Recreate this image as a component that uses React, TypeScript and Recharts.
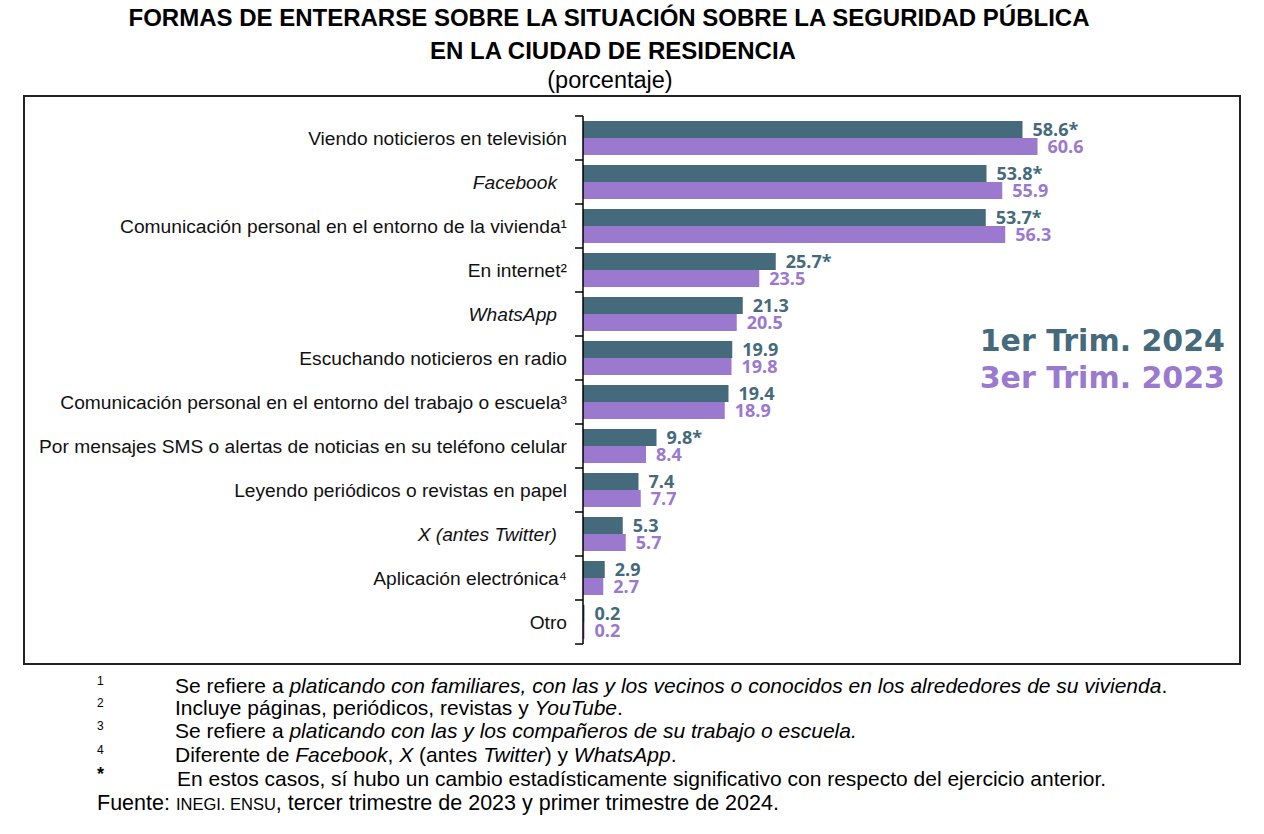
import { Bar, BarChart, LabelList, Legend, XAxis, YAxis } from 'recharts'

const categories = [
  'Viendo noticieros en televisión',
  'Facebook',
  'Comunicación personal en el entorno de la vivienda¹',
  'En internet²',
  'WhatsApp',
  'Escuchando noticieros en radio',
  'Comunicación personal en el entorno del trabajo o escuela³',
  'Por mensajes SMS o alertas de noticias en su teléfono celular',
  'Leyendo periódicos o revistas en papel',
  'X (antes Twitter)',
  'Aplicación electrónica⁴',
  'Otro',
]
const italicCategories = ['Facebook', 'WhatsApp', 'X (antes Twitter)']
const trim2024 = [58.6, 53.8, 53.7, 25.7, 21.3, 19.9, 19.4, 9.8, 7.4, 5.3, 2.9, 0.2]
const trim2023 = [60.6, 55.9, 56.3, 23.5, 20.5, 19.8, 18.9, 8.4, 7.7, 5.7, 2.7, 0.2]
const significant2024 = [true, true, true, true, false, false, false, true, false, false, false, false]

const data = categories.map((name, i) => ({
  name,
  t2024: trim2024[i],
  t2023: trim2023[i],
  label2024: trim2024[i].toFixed(1) + (significant2024[i] ? '*' : ''),
  label2023: trim2023[i].toFixed(1),
}))

const DARK = '#446a7b'
const PURPLE = '#9a79cf'

const CHART_W = 1216
const CHART_H = 568
const AXIS_X = 559
const MARGIN = { top: 20, right: 57, bottom: 20, left: 0 }
const BAND = (CHART_H - MARGIN.top - MARGIN.bottom) / categories.length

function CategoryTick(props: any) {
  const { y, payload, index } = props
  const label = payload.value as string
  const italic = italicCategories.includes(label)
  return (
    <g>
      <line x1={AXIS_X - 8} x2={AXIS_X} y1={y - BAND / 2} y2={y - BAND / 2} stroke="#000" strokeWidth={1.5} />
      {index === categories.length - 1 && (
        <line x1={AXIS_X - 8} x2={AXIS_X} y1={y + BAND / 2} y2={y + BAND / 2} stroke="#000" strokeWidth={1.5} />
      )}
      <text
        x={AXIS_X - (italic ? 26 : 16)}
        y={y}
        dy="0.35em"
        textAnchor="end"
        fontSize={19.2}
        fontStyle={italic ? 'italic' : 'normal'}
        fontFamily="'Liberation Sans', Arial, sans-serif"
        fill="#111"
      >
        {label}
      </text>
    </g>
  )
}

const valueLabel = { fontSize: 18, fontWeight: 700, fontFamily: "'Open Sans', sans-serif" }

function App() {
  return (
    <div style={{ position: 'absolute', left: 0, top: 0, width: 1264, height: 834, background: '#fff', fontFamily: "'Liberation Sans', Arial, sans-serif", color: '#000' }}>
      <div style={{ position: 'absolute', left: 0, width: 1218, top: 4, textAlign: 'center', fontWeight: 700, fontSize: 24, lineHeight: '28px' }}>
        FORMAS DE ENTERARSE SOBRE LA SITUACIÓN SOBRE LA SEGURIDAD PÚBLICA
      </div>
      <div style={{ position: 'absolute', left: 0, width: 1226, top: 37, textAlign: 'center', fontWeight: 700, fontSize: 24, lineHeight: '28px' }}>
        EN LA CIUDAD DE RESIDENCIA
      </div>
      <div style={{ position: 'absolute', left: 0, width: 1220, top: 66, textAlign: 'center', fontSize: 23.5, lineHeight: '28px' }}>
        (porcentaje)
      </div>

      <div style={{ position: 'absolute', left: 23, top: 95, width: 1218, height: 570, border: '2px solid #222', boxSizing: 'border-box' }} />

      <div style={{ position: 'absolute', left: 24, top: 96 }}>
        <BarChart width={CHART_W} height={CHART_H} data={data} layout="vertical" margin={MARGIN} barCategoryGap={5} barGap={0}>
          <XAxis type="number" domain={[0, 80]} hide />
          <YAxis
            type="category"
            dataKey="name"
            width={AXIS_X}
            axisLine={{ stroke: '#000', strokeWidth: 1.5 }}
            tickLine={false}
            interval={0}
            tick={<CategoryTick />}
          />
          <Legend
            layout="vertical"
            align="center"
            verticalAlign="middle"
            wrapperStyle={{ left: 'auto', right: 15, top: 226, width: 'auto' }}
            content={({ payload }: any) => (
              <div style={{ textAlign: 'right', fontFamily: "'DejaVu Sans', sans-serif", fontWeight: 700, fontSize: 30, lineHeight: '37px' }}>
                {payload?.map((p: any) => (
                  <div key={p.value} style={{ color: p.color }}>{p.value}</div>
                ))}
              </div>
            )}
          />
          <Bar dataKey="t2024" name="1er Trim. 2024" fill={DARK} isAnimationActive={false}>
            <LabelList dataKey="label2024" position="right" offset={10} fill={DARK} style={valueLabel} />
          </Bar>
          <Bar dataKey="t2023" name="3er Trim. 2023" fill={PURPLE} isAnimationActive={false}>
            <LabelList dataKey="label2023" position="right" offset={10} fill={PURPLE} style={valueLabel} />
          </Bar>
        </BarChart>
      </div>

      <div style={{ position: 'absolute', left: 0, top: 0, fontSize: 21, lineHeight: '22px' }}>
        {[
          { mark: '1', top: 675, text: <>Se refiere a <i>platicando con familiares, con las y los vecinos o conocidos en los alrededores de su vivienda</i>.</> },
          { mark: '2', top: 697, text: <>Incluye páginas, periódicos, revistas y <i>YouTube</i>.</> },
          { mark: '3', top: 720, text: <>Se refiere a <i>platicando con las y los compañeros de su trabajo o escuela.</i></> },
          { mark: '4', top: 744, text: <>Diferente de <i>Facebook</i>, <i>X</i> (antes <i>Twitter</i>) y <i>WhatsApp</i>.</> },
          { mark: '*', top: 768, text: <>En estos casos, sí hubo un cambio estadísticamente significativo con respecto del ejercicio anterior.</> },
        ].map((n) => (
          <div key={n.mark}>
            <div style={{ position: 'absolute', left: 97, top: n.top - 5, fontSize: n.mark === '*' ? 18 : 12, fontWeight: n.mark === '*' ? 700 : 400, whiteSpace: 'nowrap' }}>{n.mark}</div>
            <div style={{ position: 'absolute', left: n.mark === '*' ? 177 : 175, top: n.top, whiteSpace: 'nowrap' }}>{n.text}</div>
          </div>
        ))}
        <div style={{ position: 'absolute', left: 97, top: 792, whiteSpace: 'nowrap', fontSize: 21.5 }}>
          Fuente: <span style={{ fontSize: 16.5 }}>INEGI. ENSU</span>, tercer trimestre de 2023 y primer trimestre de 2024.
        </div>
      </div>
    </div>
  )
}

export default App
